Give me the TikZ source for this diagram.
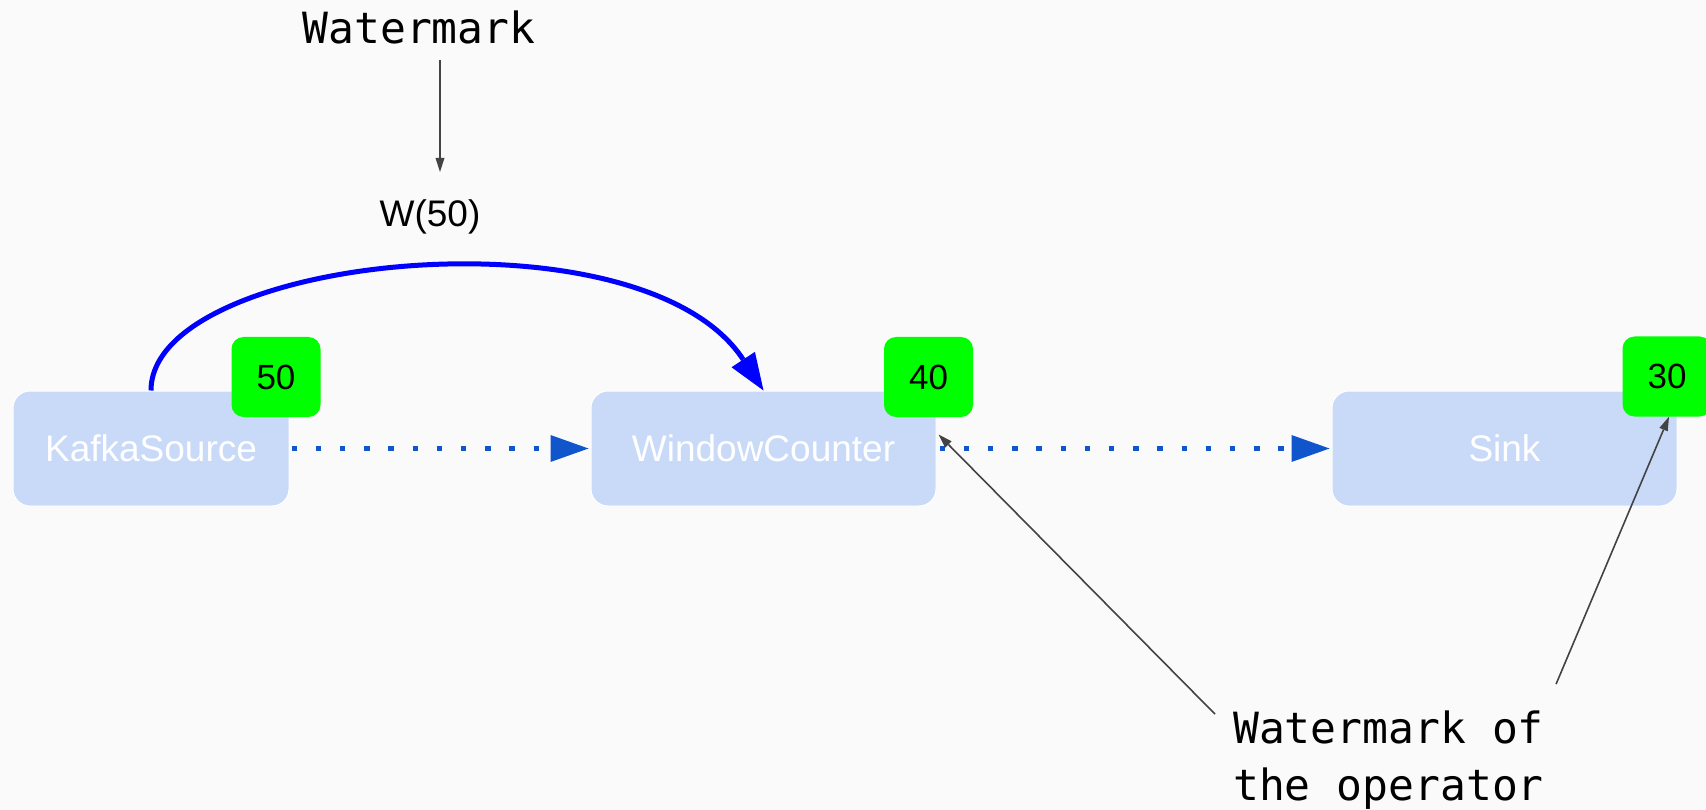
\documentclass[tikz,border=0pt]{standalone}
\usepackage{fontspec}
\setmainfont{Liberation Sans}
\newfontfamily\monofont{DejaVu Sans Mono}
\usetikzlibrary{arrows.meta,positioning}
\definecolor{paper}{HTML}{FAFAFA}
\definecolor{opblue}{HTML}{C9DAF8}
\definecolor{wmgreen}{HTML}{00FF00}
\definecolor{flowblue}{HTML}{1155CC}
\definecolor{pureblue}{HTML}{0000FF}
\definecolor{ink}{HTML}{434343}
\tikzset{
  op/.style={fill=opblue,draw=white,line width=1pt,rounded corners=17pt,minimum height=115pt,text=white,font=\fontsize{37}{44}\selectfont},
  badge/.style={fill=wmgreen,rounded corners=12pt,minimum width=89pt,minimum height=80pt,inner sep=0pt,font=\fontsize{35}{42}\selectfont},
  flow/.style={-{Triangle[length=38pt,width=27pt,line width=0pt]},draw=flowblue,line width=5.5pt,dash pattern=on 5.5pt off 18.7pt},
  wmflow/.style={-{Triangle[length=37pt,width=28pt,line width=0pt]},draw=pureblue,line width=5pt},
  pointer/.style={-{Triangle[length=14pt,width=9pt,line width=0pt]},draw=ink,line width=1.6pt},
  mono/.style={font=\monofont\fontsize{43}{57}\selectfont,inner sep=0pt},
  lbl/.style={font=\fontsize{37}{44}\selectfont,inner sep=0pt},
}
\begin{document}
\begin{tikzpicture}[x=1pt,y=-1pt]
\fill[paper] (0,0) rectangle (1706,810);
\useasboundingbox (0,0) rectangle (1706,810);
% operators of the pipeline
\node[op,minimum width=276pt] (ks) at (151,448.5) {KafkaSource};
\node[op,minimum width=345pt,right=301pt of ks] (wc) {WindowCounter};
\node[op,minimum width=345pt,right=395pt of wc] (sink) {Sink};
% current watermark of each operator
\node[badge] (b50) at ([xshift=-13.5pt,yshift=13.5pt]ks.north east) {50};
\node[badge] (b40) at ([xshift=-8pt,yshift=13.5pt]wc.north east) {40};
\node[badge] (b30) at ([xshift=-10.5pt,yshift=14pt]sink.north east) {30};
% labels
\node[mono,anchor=base] (wm) at (419,44) {Watermark};
\node[lbl,anchor=base] (w50) at (430,227) {W(50)};
\node[mono,anchor=base west,align=left] (note) at (1233,800) {Watermark of\\the operator};
% connectors
\draw[flow] ([xshift=2pt]ks.east) -- ([xshift=-2pt]wc.west);
\draw[flow] ([xshift=3pt]wc.east) -- ([xshift=-2pt]sink.west);
\draw[wmflow] (ks.north) .. controls +(0,-136) and +(-122,-186) .. (wc.north);
\draw[pointer] ([xshift=21pt,yshift=-15pt]wm.south) -- ([xshift=10pt,yshift=28pt]w50.north);
\draw[pointer] ([xshift=-18pt,yshift=-4pt]note.north west) -- ([xshift=2pt,yshift=14pt]wc.east);
\draw[pointer] ([xshift=12pt,yshift=26pt]note.north east) -- ([xshift=2pt]b30.south);
\end{tikzpicture}
\end{document}
